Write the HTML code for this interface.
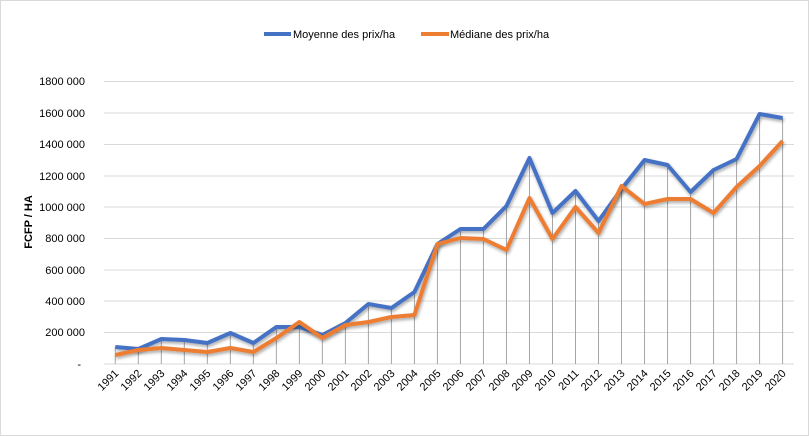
<!DOCTYPE html>
<html><head><meta charset="utf-8"><style>
html,body{margin:0;padding:0;background:#fff}
svg{display:block;font-family:"Liberation Sans",Arial,sans-serif}
</style></head><body>
<svg width="809" height="436" viewBox="0 0 809 436" xmlns="http://www.w3.org/2000/svg">
<defs>
<filter id="sh" x="-10%" y="-10%" width="120%" height="130%"><feGaussianBlur in="SourceAlpha" stdDeviation="1.5"/><feOffset dx="1" dy="2" result="b"/><feComponentTransfer><feFuncA type="linear" slope="0.35"/></feComponentTransfer><feMerge><feMergeNode/><feMergeNode in="SourceGraphic"/></feMerge></filter>
</defs>
<rect x="0.5" y="0.5" width="808" height="435" fill="#fff" stroke="#d9d9d9"/>
<g stroke="#d9d9d9" stroke-width="1">
<line x1="104" x2="794" y1="81.5" y2="81.5"/><line x1="104" x2="794" y1="113" y2="113"/><line x1="104" x2="794" y1="144.5" y2="144.5"/><line x1="104" x2="794" y1="176" y2="176"/><line x1="104" x2="794" y1="207" y2="207"/><line x1="104" x2="794" y1="238.5" y2="238.5"/><line x1="104" x2="794" y1="270" y2="270"/><line x1="104" x2="794" y1="301" y2="301"/><line x1="104" x2="794" y1="332.5" y2="332.5"/><line x1="104" x2="794" y1="364" y2="364"/>
</g>
<g font-size="11" fill="#000" text-anchor="end">
<text x="85" y="85">1800 000</text><text x="85" y="117">1600 000</text><text x="85" y="148">1400 000</text><text x="85" y="180">1200 000</text><text x="85" y="211">1000 000</text><text x="85" y="242">800 000</text><text x="85" y="274">600 000</text><text x="85" y="305">400 000</text><text x="85" y="336">200 000</text><text x="81" y="368">-</text>
</g>
<text transform="translate(32,222) rotate(-90)" font-size="11" font-weight="bold" text-anchor="middle">FCFP / HA</text>
<g id="drops" stroke="#a6a6a6" stroke-width="1"></g>
<g id="labs" font-size="11" text-anchor="end"></g>
<polyline id="blue" fill="none" stroke="#4472c4" stroke-width="4" stroke-linejoin="round" filter="url(#sh)"/>
<polyline id="org" fill="none" stroke="#ed7d31" stroke-width="4" stroke-linejoin="round" filter="url(#sh)"/>
<line x1="264" x2="291" y1="34" y2="34" stroke="#4472c4" stroke-width="4"/>
<text x="293" y="38" font-size="11">Moyenne des prix/ha</text>
<line x1="421" x2="449" y1="34" y2="34" stroke="#ed7d31" stroke-width="4"/>
<text x="450" y="38" font-size="11">Médiane des prix/ha</text>
<script>
var B=[347,349,339,340,343,333,343,327,327,335,323,304,308,292,244,229,229,206,158,213,191,221,189,160,165,192,170,159,114,118];
var O=[355,350,348,350,352,348,352,338,322,338,325,322,317,315,244,238,239,250,198,239,207,233,186,204,199,199,213,187,166,141];
var ns="http://www.w3.org/2000/svg",bp=[],op=[],d=document.getElementById('drops'),l=document.getElementById('labs');
for(var i=0;i<30;i++){var x=115.3+i*23.01;bp.push(x+','+B[i]);op.push(x+','+O[i]);
var ln=document.createElementNS(ns,'line');ln.setAttribute('x1',x);ln.setAttribute('x2',x);ln.setAttribute('y1',Math.min(B[i],O[i]));ln.setAttribute('y2',364);d.appendChild(ln);
var t=document.createElementNS(ns,'text');t.setAttribute('transform','translate('+(x+4)+',374) rotate(-45)');t.textContent=1991+i;l.appendChild(t);}
document.getElementById('blue').setAttribute('points',bp.join(' '));
document.getElementById('org').setAttribute('points',op.join(' '));
</script>
</svg>
</body></html>
